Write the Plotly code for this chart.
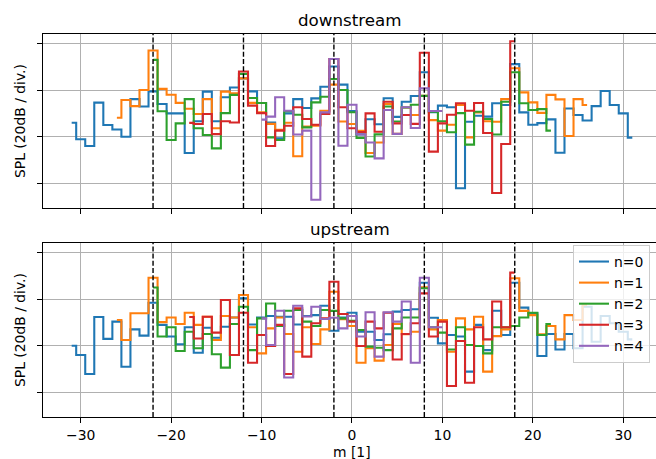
import plotly.graph_objects as go

# ---------------- data ----------------
m_n0 = list(range(-31, 32))
m_n1 = list(range(-26, 27))
m_n2 = list(range(-22, 23))
m_n3 = list(range(-18, 19))
m_n4 = list(range(-10, 11))

down_n0 = [6.0, -1.1, -4.0, 14.6, 5.0, 3.1, 0.0, 16.1, 12.9, 19.4,
           14.0, 10.0, 10.0, -7.0, 6.6, 19.3, 6.6, 16.9, 21.1, 25.0,
           19.4, 14.4, 6.1, -0.7, 10.0, 16.1, 12.3, 16.4, 21.4, 30.1,
           22.3, 11.0, 1.0, 7.5, 5.3, 16.5, 8.5, 15.0, 17.4, 27.6,
           10.5, 13.3, 12.6, -22.1, 6.4, 9.0, 8.6, 14.3, 13.6, 31.1,
           10.4, 5.1, 5.8, 7.4, -6.9, 12.1, 9.3, 6.9, 13.1, 19.6, 13.6, 10.0, -0.4]
down_n1 = [8.1, 15.7, 13.1, 20.0, 36.9, 20.5, 18.0, 14.5, 12.0, 9.7,
           16.1, 3.6, 19.3, 18.6, 25.0, 14.5, 10.4, 5.5, 3.0, 6.0,
           -8.4, 4.3, 4.7, 11.1, 22.3, 6.5, 5.4, 2.5, -7.0, -2.5,
           14.0, 1.2, 12.5, 9.3, 17.5, 7.1, 2.6, 5.1, 13.6, -0.3,
           10.4, 6.6, 6.4, 16.1, 29.3, 19.0, 14.7, 10.2, 17.9, 16.0, 0.3, 16.1, 13.6]
down_n2 = [32.9, 10.9, -1.4, 5.7, 16.1, 3.6, 0.7, -5.0, 10.1, 17.9,
           26.9, 16.6, 14.4, -0.3, -1.4, 10.9, 9.4, 4.0, 14.7, 17.1,
           24.7, 20.0, 10.5, -0.5, -8.5, 1.0, 12.9, 6.5, 12.5, 13.7,
           17.5, 10.7, 6.6, 1.9, 10.1, -3.4, 10.7, 7.6, 0.9, 15.0,
           27.6, 14.3, 11.4, 11.8, 2.6]
down_n3 = [5.9, 5.4, 9.7, 1.1, 6.6, 6.1, 27.9, 13.3, 10.1, -4.0,
           2.6, 4.7, 12.6, 7.6, 5.1, 9.7, 33.3, 12.6, 3.6, 2.0,
           10.0, 2.1, 15.0, 5.7, 9.3, 5.5, 36.0, -6.4, 5.7, 9.4,
           14.3, 11.1, 14.4, 1.6, -24.1, -3.1, 40.9]
down_n4 = [7.3, 8.6, 16.9, 11.1, 0.9, 2.6, -27.0, 10.4, 33.3, -3.9,
           13.7, 1.0, -2.5, -9.3, 11.4, 1.2, 12.6, 3.7, 20.7, 11.0, 11.0]

up_n0 = [0.0, -4.0, -12.1, 12.3, 2.9, 10.3, -9.0, 7.0, 4.3, 18.4,
         8.9, 3.9, 0.6, 7.9, -3.0, 7.7, 3.4, 8.1, 12.1, 20.3,
         9.1, 12.1, 12.7, 12.4, 12.4, 9.1, 12.7, 13.1, 17.1, 6.4,
         12.1, 14.1, 6.0, 6.0, 2.4, 4.9, 14.6, 15.3, 15.6, 27.0,
         12.0, 1.0, 4.6, 3.9, -11.1, 8.9, -1.9, 15.0, 4.6, 27.0,
         16.3, 13.9, -4.4, 5.0, -1.6, 5.0, -1.1, 16.7, 1.7, 12.7, 9.6, 6.0, 2.7]
up_n1 = [11.0, 2.4, 13.9, 13.9, 29.1, 10.1, 12.1, 9.3, 14.1, 8.9,
         12.4, 2.4, 12.7, 12.1, 21.7, 7.9, -3.3, 7.4, 12.1, 5.0,
         -2.6, 7.9, 0.7, 7.0, 23.1, 11.3, 8.4, -7.3, -1.1, -6.4,
         0.3, 9.3, 4.9, 6.0, 25.0, 7.0, 11.0, -2.6, 11.7, 7.0,
         12.4, -11.1, 4.1, 7.0, 28.9, 14.9, 13.1, 4.9, 8.4, 2.7, 13.1, 11.0, 17.4]
up_n2 = [24.9, 3.9, 7.9, -2.3, 6.0, -1.1, 5.0, -3.7, -9.4, 9.3,
         16.7, -1.9, 11.7, 18.1, 8.4, 15.0, 15.3, 10.3, 8.4, 15.3,
         14.9, 11.7, 10.7, 6.7, -0.4, -0.9, -1.9, 7.4, 12.1, 12.1,
         24.6, 7.9, 5.6, -1.6, 7.9, 0.3, -0.1, -3.3, 7.9, 7.9,
         8.4, 12.1, 14.1, 4.6, 9.3]
up_n3 = [12.3, 3.1, 12.4, 5.6, 19.6, -4.0, 14.1, -7.3, 4.6, -0.1,
         8.9, -12.1, 16.0, -4.7, 9.6, 11.7, 27.4, 13.6, 10.3, -0.1,
         10.3, 7.4, 14.1, -5.9, 5.0, 9.6, 22.4, 3.9, 10.3, -17.3,
         2.0, -15.9, 7.9, 2.7, 18.9, 7.9, 31.3]
up_n4 = [11.7, 0.3, 15.0, -13.6, 17.1, 12.5, 16.7, 11.4, 12.0, 7.4,
         12.7, 3.9, 14.3, -4.7, 14.3, 10.3, 18.9, -7.3, 29.1, 7.9, 7.9]

labels = ["n=0", "n=1", "n=2", "n=3", "n=4"]
colors = ["#1f77b4", "#ff7f0e", "#2ca02c", "#d62728", "#9467bd"]
dashed_m = [-22, -12, -2, 8, 18]
x_ticks = [-30, -20, -10, 0, 10, 20, 30]
y_ticks = [-20, 0, 20, 40]

m_lists = [m_n0, m_n1, m_n2, m_n3, m_n4]
down_lists = [down_n0, down_n1, down_n2, down_n3, down_n4]
up_lists = [up_n0, up_n1, up_n2, up_n3, up_n4]

# ---------------- layout geometry (pixels) ----------------
W, H = 656, 459
L, R, T, B = 43, 0, 34, 42
PW, PH = W - L - R, H - T - B


def px_x(p):
    return (p - L) / PW


def px_y(p):
    return (H - B - p) / PH


FONT = "DejaVu Sans"
LW = 2.08

fig = go.Figure()
for i in range(5):
    fig.add_trace(go.Scatter(
        x=m_lists[i], y=down_lists[i], mode="lines", name=labels[i],
        line=dict(shape="hvh", color=colors[i], width=LW),
        xaxis="x", yaxis="y", showlegend=False, legendgroup=labels[i]))
for i in range(5):
    fig.add_trace(go.Scatter(
        x=m_lists[i], y=up_lists[i], mode="lines", name=labels[i],
        line=dict(shape="hvh", color=colors[i], width=LW),
        xaxis="x2", yaxis="y2", showlegend=True, legendgroup=labels[i]))

shapes = []
for xr, yr in (("x", "y domain"), ("x2", "y2 domain")):
    for m in dashed_m:
        shapes.append(dict(type="line", xref=xr, yref=yr, x0=m, x1=m, y0=0, y1=1,
                           line=dict(color="black", width=1.4, dash="5px,2.2px"),
                           layer="above"))

axis_common = dict(
    showgrid=True, gridcolor="#b0b0b0", gridwidth=1.1,
    showline=True, mirror=True, linecolor="black", linewidth=1.1,
    ticks="outside", ticklen=4.9, tickwidth=1.1, tickcolor="black",
    zeroline=False,
)
xrange = [-34.17, 33.62]
yrange = [-30.56, 44.0]

top_dom = [px_y(208), 1.0]
bot_dom = [0.0, px_y(243)]

fig.update_layout(
    width=W, height=H,
    margin=dict(l=L, r=R, t=T, b=B),
    paper_bgcolor="white", plot_bgcolor="white",
    font=dict(family=FONT, size=13.9, color="black"),
    xaxis=dict(domain=[0, 1], anchor="y", range=xrange, tickvals=x_ticks,
               showticklabels=False, **axis_common),
    xaxis2=dict(domain=[0, 1], anchor="y2", range=xrange, tickvals=x_ticks,
                matches="x", showticklabels=True,
                tickfont=dict(family=FONT, size=13.9, color="black"), **axis_common),
    yaxis=dict(domain=top_dom, anchor="x", range=yrange, tickvals=y_ticks,
               showticklabels=False, **axis_common),
    yaxis2=dict(domain=bot_dom, anchor="x2", range=yrange, tickvals=y_ticks,
                showticklabels=False, **axis_common),
    shapes=shapes,
    legend=dict(x=px_x(650), xanchor="right", y=px_y(245), yanchor="top",
                bgcolor="rgba(255,255,255,0.8)", bordercolor="#cccccc", borderwidth=1,
                font=dict(family=FONT, size=13.9, color="black"),
                tracegroupgap=0),
    annotations=[
        dict(text="downstream", xref="paper", yref="paper", x=px_x(350), y=px_y(20),
             xanchor="center", yanchor="middle", showarrow=False,
             font=dict(family=FONT, size=16.7, color="black")),
        dict(text="upstream", xref="paper", yref="paper", x=px_x(350), y=px_y(229),
             xanchor="center", yanchor="middle", showarrow=False,
             font=dict(family=FONT, size=16.7, color="black")),
        dict(text="SPL (20dB / div.)", xref="paper", yref="paper", x=px_x(20),
             y=px_y(121), xanchor="center", yanchor="middle", textangle=-90,
             showarrow=False, font=dict(family=FONT, size=13.9, color="black")),
        dict(text="SPL (20dB / div.)", xref="paper", yref="paper", x=px_x(20),
             y=px_y(330), xanchor="center", yanchor="middle", textangle=-90,
             showarrow=False, font=dict(family=FONT, size=13.9, color="black")),
        dict(text="m [1]", xref="paper", yref="paper", x=px_x(352), y=px_y(452),
             xanchor="center", yanchor="middle", showarrow=False,
             font=dict(family=FONT, size=13.9, color="black")),
    ],
)

fig.write_html(
    "out.html",
    config={"displayModeBar": False},
    post_script="document.body.style.margin='0';document.body.style.overflow='hidden';",
)
